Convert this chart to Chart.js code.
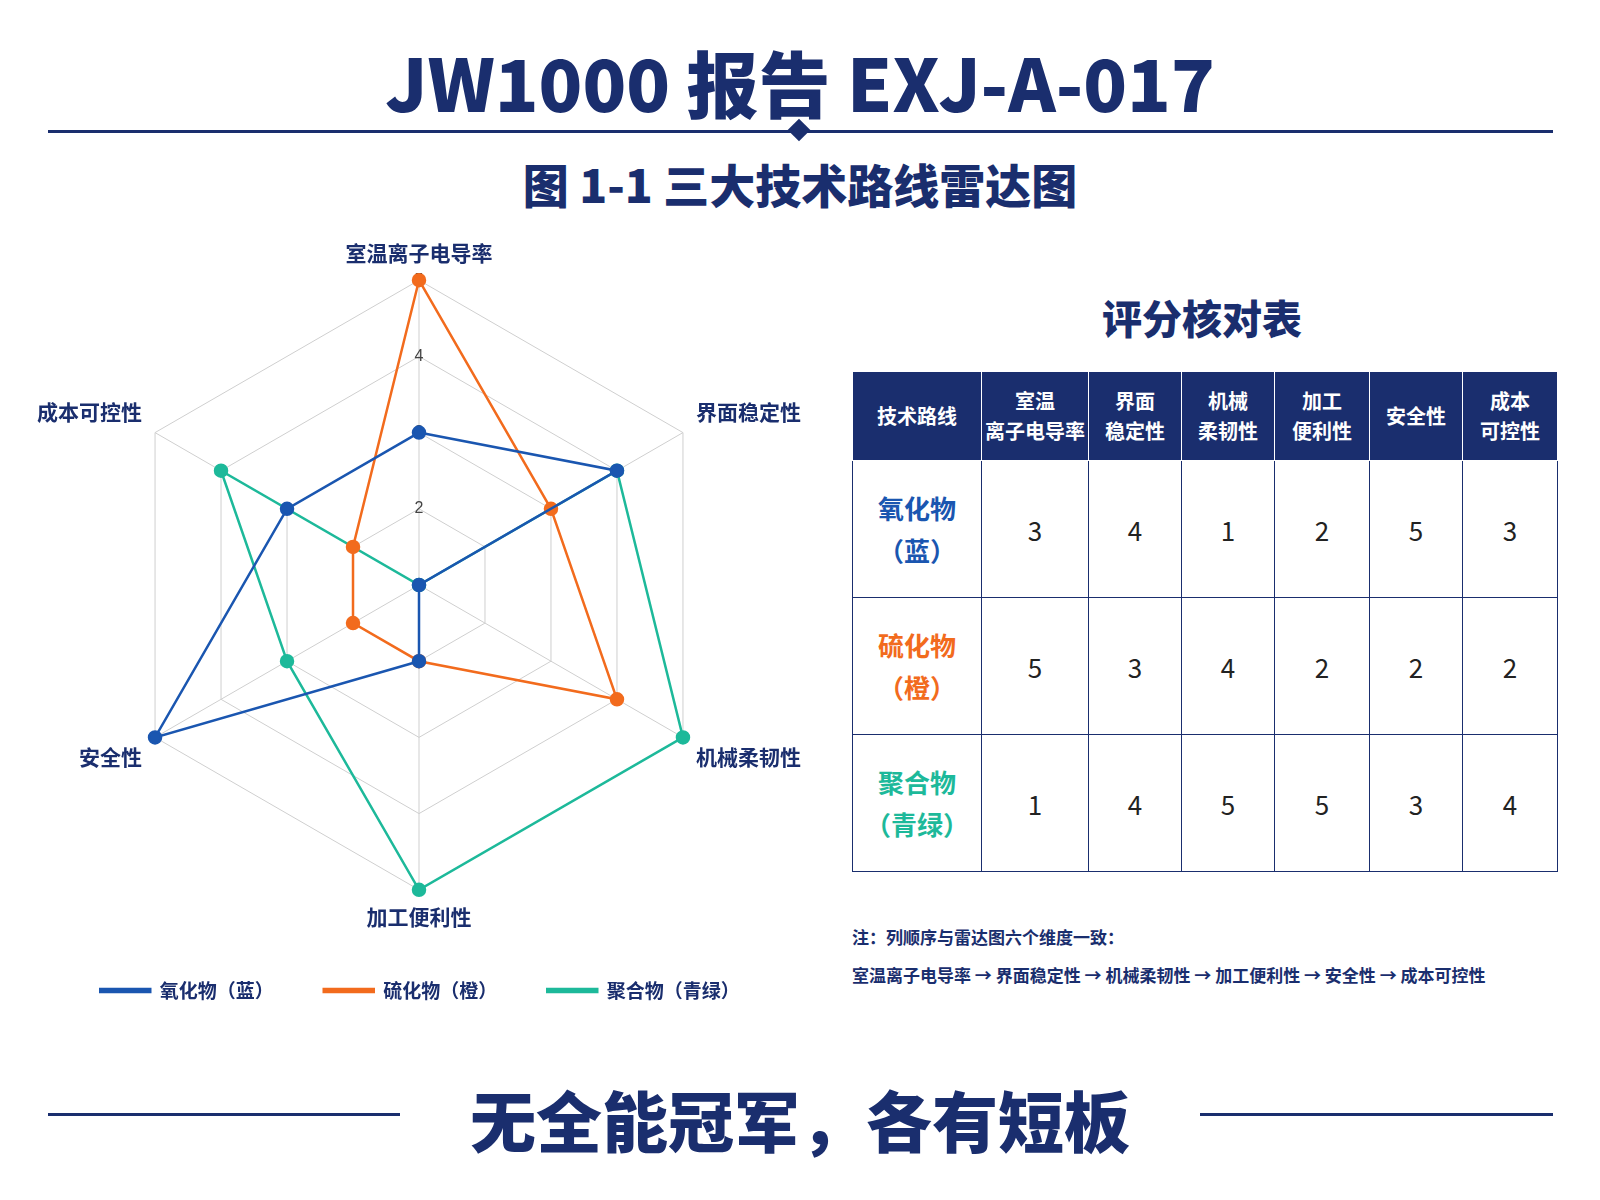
<!DOCTYPE html>
<html><head><meta charset="utf-8">
<script src="https://cdn.jsdelivr.net/npm/chart.js@4/dist/chart.umd.min.js"></script>
<style>
body{margin:0;width:1600px;height:1200px;background:#fff;font-family:"Noto Sans CJK SC","Noto Sans",sans-serif;color:#1a2e6e;position:relative;overflow:hidden}
.abs{position:absolute}
h1{position:absolute;top:28px;left:0;width:1600px;text-align:center;margin:0;font-size:72px;font-weight:900;color:#1a2e6e}
h2{position:absolute;top:150px;left:0;width:1600px;text-align:center;margin:0;font-size:46px;font-weight:900;color:#1a2e6e}
.line{position:absolute;height:3px;background:#1a2e6e}
table{border-collapse:collapse;font-size:24px}
td,th{border:1.5px solid #1a2e6e;text-align:center}
th{background:#1a2e6e;color:#fff;font-size:20px;font-weight:700;border-color:#fff;height:86px;line-height:1.5}
td{height:134px;color:#222;font-size:26px}
td.n{font-weight:700;line-height:1.6}
</style></head><body>
<h1>JW1000 报告 EXJ-A-017</h1>
<div class="line" style="top:130px;left:48px;width:1505px"></div>
<div class="abs" style="top:122px;left:791px;width:16px;height:16px;background:#1a2e6e;transform:rotate(45deg)"></div>
<h2>图 1-1 三大技术路线雷达图</h2>
<div class="abs" style="left:20px;top:240px;width:800px;height:770px"><canvas id="radar" width="800" height="770"></canvas></div>
<div class="abs" style="left:852px;top:288px;width:700px;text-align:center;font-size:40px;font-weight:900">评分核对表</div>
<div class="abs" style="left:852px;top:371px"><table id="tbl"></table></div>
<div class="abs" style="left:852px;top:918px;font-size:17px;font-weight:700;color:#1a2e6e;line-height:38px">注：列顺序与雷达图六个维度一致：<br>室温离子电导率 → 界面稳定性 → 机械柔韧性 → 加工便利性 → 安全性 → 成本可控性</div>
<div class="line" style="top:1113px;left:48px;width:352px"></div>
<div class="line" style="top:1113px;left:1200px;width:353px"></div>
<div class="abs" style="top:1070px;left:400px;width:800px;text-align:center;font-size:66px;font-weight:900">无全能冠军，各有短板</div>
<script>
const dims = ['室温离子电导率', '界面稳定性', '机械柔韧性', '加工便利性', '安全性', '成本可控性'];
const colHeads = ['室温<br>离子电导率', '界面<br>稳定性', '机械<br>柔韧性', '加工<br>便利性', '安全性', '成本<br>可控性'];
const routes = ['氧化物（蓝）', '硫化物（橙）', '聚合物（青绿）'];
const colors = ['#1a56b0', '#f26b1d', '#1db99a'];
const oxide = [3, 4, 1, 2, 5, 3];
const sulfide = [5, 3, 4, 2, 2, 2];
const polymer = [1, 4, 5, 5, 3, 4];
const series = [oxide, sulfide, polymer];

// table
const tbl = document.getElementById('tbl');
const widths = [126, 104, 90, 90, 92, 90, 92];
let html = '<tr><th style="width:' + widths[0] + 'px">技术路线</th>' +
  colHeads.map((h, i) => '<th style="width:' + widths[i + 1] + 'px">' + h + '</th>').join('') + '</tr>';
series.forEach((s, r) => {
  const name = routes[r].replace('（', '<br>（');
  html += '<tr><td class="n" style="color:' + colors[r] + '">' + name + '</td>' +
    s.map(v => '<td>' + v + '</td>').join('') + '</tr>';
});
tbl.innerHTML = html;

new Chart(document.getElementById('radar'), {
  type: 'radar',
  data: {
    labels: dims,
    datasets: series.map((s, i) => ({
      label: routes[i],
      data: s,
      borderColor: colors[i],
      backgroundColor: colors[i],
      fill: false,
      borderWidth: 2.5,
      pointRadius: 6,
      pointBackgroundColor: colors[i]
    }))
  },
  options: {
    responsive: false,
    animation: false,
    layout: { padding: { top: 0, bottom: 0 } },
    plugins: {
      legend: {
        position: 'bottom',
        labels: {
          boxWidth: 50, boxHeight: 3, padding: 50,
          color: '#1a2e6e', font: { size: 19, weight: 'bold', family: 'Noto Sans CJK SC' }
        }
      }
    },
    scales: {
      r: {
        min: 1, max: 5,
        ticks: { stepSize: 1, color: '#444', backdropColor: 'transparent', font: { size: 16 } },
        grid: { color: '#cfcfcf' },
        angleLines: { color: '#cfcfcf' },
        pointLabels: { color: '#1a2e6e', font: { size: 21, weight: 'bold', family: 'Noto Sans CJK SC' } }
      }
    }
  }
});
</script>
</body></html>
